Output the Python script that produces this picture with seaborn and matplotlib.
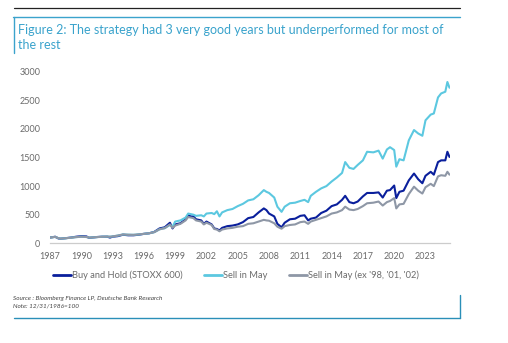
import matplotlib
matplotlib.use("Agg")
import matplotlib.pyplot as plt
from matplotlib.lines import Line2D
import pandas as pd
import seaborn as sns

# Time axis (fractional years) shared by all three series
dates = [
    1987.0, 1987.5, 1987.8, 1988.0, 1988.5, 1989.0, 1989.5, 1990.0, 1990.5, 1990.75,
    1991.0, 1991.5, 1992.0, 1992.5, 1992.75, 1993.0, 1993.5, 1994.0, 1994.5, 1995.0,
    1995.5, 1996.0, 1996.5, 1997.0, 1997.5, 1998.0, 1998.5, 1998.75, 1999.0, 1999.5,
    2000.0, 2000.25, 2000.5, 2000.75, 2001.0, 2001.5, 2001.75, 2002.0, 2002.5, 2002.75,
    2003.0, 2003.25, 2003.5, 2004.0, 2004.5, 2005.0, 2005.5, 2006.0, 2006.5, 2007.0,
    2007.5, 2007.75, 2008.0, 2008.5, 2008.8, 2009.2, 2009.5, 2010.0, 2010.5, 2011.0,
    2011.4, 2011.75, 2012.0, 2012.5, 2013.0, 2013.5, 2014.0, 2014.5, 2015.0, 2015.3,
    2015.7, 2016.1, 2016.5, 2017.0, 2017.4, 2018.0, 2018.5, 2018.9, 2019.3, 2019.6,
    2020.0, 2020.2, 2020.5, 2020.9, 2021.4, 2021.9, 2022.3, 2022.7, 2023.0, 2023.5,
    2023.8, 2024.2, 2024.5, 2024.9, 2025.1, 2025.3,
]

buy_and_hold = [
    100, 115, 85, 80, 90, 100, 115, 125, 120, 95,
    100, 110, 115, 115, 100, 115, 125, 150, 140, 140,
    150, 165, 175, 200, 260, 280, 360, 260, 330, 350,
    420, 490, 470, 470, 420, 400, 340, 380, 330, 260,
    250, 225, 270, 300, 310, 330, 370, 440, 460, 540,
    610, 580, 520, 470, 340, 280, 360, 420, 430, 480,
    490, 400, 430, 450, 530, 570, 650, 680, 760, 830,
    720, 700, 730, 820, 880, 880, 890, 800, 920, 930,
    1010, 790, 900, 920, 1100, 1220, 1120, 1050, 1180, 1250,
    1200, 1420, 1450, 1450, 1600, 1510,
]

sell_in_may = [
    100, 112, 90, 82, 88, 98, 108, 115, 110, 100,
    102, 108, 115, 118, 115, 120, 135, 155, 150, 148,
    155, 165, 175, 195, 245, 265, 320, 290, 380, 400,
    450, 520, 510, 500, 480, 490, 470, 520, 530, 510,
    560, 470, 540, 580, 600, 650, 690, 750, 770, 840,
    930, 900, 880, 800, 640, 550, 640, 700, 710, 740,
    760, 720, 830, 900, 960, 1000, 1080, 1150, 1230, 1420,
    1320, 1300, 1370, 1450, 1600, 1590, 1620, 1480, 1640, 1680,
    1630, 1340, 1470, 1450, 1800, 1980, 1920, 1880, 2150, 2250,
    2270, 2550, 2620, 2650, 2820, 2720,
]

sell_in_may_ex = [
    100, 112, 90, 82, 88, 98, 108, 115, 110, 100,
    102, 108, 115, 118, 115, 120, 135, 155, 150, 148,
    155, 165, 175, 195, 245, 265, 330, 270, 310, 340,
    400, 460, 450, 440, 400, 380, 330, 360, 320, 250,
    240, 210, 240, 260, 270, 290, 300, 340, 350, 380,
    410, 400, 395, 350, 290, 255, 300, 320, 330, 370,
    380, 340, 380, 410, 440, 470, 520, 540, 580, 640,
    590, 580, 600, 650, 700, 710, 730, 660, 720, 740,
    790, 610, 680, 690, 860, 990, 920, 870, 980, 1040,
    1000, 1170, 1190, 1180, 1250, 1200,
]

series_names = ["Buy and Hold (STOXX 600)", "Sell in May", "Sell in May (ex '98, '01, '02)"]
series_colors = ["#0a1f9c", "#5cc8e0", "#8e97a6"]
year_ticks = list(range(1987, 2024, 3))
value_ticks = [0, 500, 1000, 1500, 2000, 2500, 3000]

df = pd.concat([
    pd.DataFrame({"date": dates, "value": vals, "series": name})
    for name, vals in zip(series_names, [buy_and_hold, sell_in_may, sell_in_may_ex])
])

sns.set_style("white")
plt.rcParams["font.family"] = ["Lato", "DejaVu Sans"]

fig = plt.figure(figsize=(5.08, 3.43), dpi=100)
ax = fig.add_axes([50 / 508, 1 - 243.3 / 343, 400 / 508, 171.6 / 343])

sns.lineplot(data=df, x="date", y="value", hue="series", hue_order=series_names,
             palette=dict(zip(series_names, series_colors)), estimator=None,
             sort=False, linewidth=1.5, ax=ax, legend=False)

ax.set_xlim(1987.0, 2025.35)
ax.set_ylim(0, 3000)
ax.set_xticks(year_ticks)
ax.set_yticks(value_ticks)
ax.set_xlabel("")
ax.set_ylabel("")
for side in ["top", "right", "left"]:
    ax.spines[side].set_visible(False)
ax.spines["bottom"].set_color("#cccccc")
ax.spines["bottom"].set_linewidth(0.9)
ax.tick_params(axis="x", length=3, width=0.8, color="#cccccc", pad=3,
               labelsize=6.5, labelcolor="#6b6b6b")
ax.tick_params(axis="y", length=0, pad=7, labelsize=6.5, labelcolor="#6b6b6b")
ax.grid(False)

handles = [Line2D([], [], color=c, linewidth=2) for c in series_colors]
fig.legend(handles, series_names, loc="center", bbox_to_anchor=(236 / 508, 1 - 275 / 343),
           ncol=3, frameon=False, fontsize=6.7, handlelength=1.9, handletextpad=0.15,
           columnspacing=2.3, labelcolor="#6b6b6b")

# Title block with framing rules
fig.add_artist(Line2D([14 / 508, 460 / 508], [1 - 8 / 343] * 2, color="#222222", linewidth=0.9))
fig.add_artist(Line2D([13 / 508, 460 / 508], [1 - 17.3 / 343] * 2, color="#3ba3cc", linewidth=1.0))
fig.add_artist(Line2D([13.5 / 508] * 2, [1 - 17.3 / 343, 1 - 53 / 343], color="#3ba3cc", linewidth=1.0))
fig.text(18 / 508, 1 - 30 / 343, "Figure 2: The strategy had 3 very good years but underperformed for most of",
         fontsize=9.0, color="#3aa3cc", va="center", ha="left")
fig.text(18 / 508, 1 - 45 / 343, "the rest", fontsize=9.0, color="#3aa3cc", va="center", ha="left")

# Source note with framing rules
fig.text(13 / 508, 1 - 298.5 / 343, "Source : Bloomberg Finance LP, Deutsche Bank Research",
         fontsize=4.6, style="italic", color="#444444", va="center", ha="left")
fig.text(13 / 508, 1 - 306.5 / 343, "Note: 12/31/1986=100",
         fontsize=4.6, style="italic", color="#444444", va="center", ha="left")
fig.add_artist(Line2D([459.5 / 508] * 2, [1 - 295 / 343, 1 - 318.3 / 343], color="#2a8fb8", linewidth=1.0))
fig.add_artist(Line2D([14 / 508, 460 / 508], [1 - 318.3 / 343] * 2, color="#2a8fb8", linewidth=1.0))

fig.savefig("out.png", dpi=100)
